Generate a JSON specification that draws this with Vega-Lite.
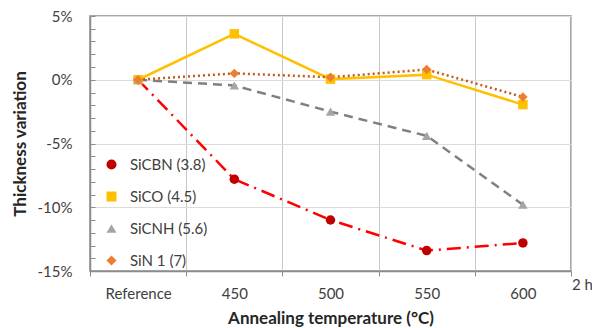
{
  "$schema": "https://vega.github.io/schema/vega-lite/v6.json",
  "width": 481,
  "height": 255,
  "autosize": {"type": "none"},
  "padding": {"left": 90, "top": 16, "right": 21, "bottom": 57},
  "background": "white",
  "config": {
    "font": "Lato",
    "view": {"stroke": "#8c8c8c", "strokeWidth": 1.5},
    "axis": {"labelFont": "Lato", "titleFont": "Lato"},
    "legend": {
      "title": null,
      "orient": "none",
      "legendX": 14,
      "legendY": 141,
      "symbolSize": 100,
      "symbolStrokeWidth": 0,
      "rowPadding": 16,
      "labelFontSize": 15,
      "labelColor": "#404040",
      "labelOffset": 11
    }
  },
  "datasets": {
    "main": [
      {"series": "SiCBN (3.8)", "temp": "Reference", "value": 0},
      {"series": "SiCBN (3.8)", "temp": "450", "value": -7.8},
      {"series": "SiCBN (3.8)", "temp": "500", "value": -11.0},
      {"series": "SiCBN (3.8)", "temp": "550", "value": -13.4},
      {"series": "SiCBN (3.8)", "temp": "600", "value": -12.8},
      {"series": "SiCO (4.5)", "temp": "Reference", "value": 0},
      {"series": "SiCO (4.5)", "temp": "450", "value": 3.6},
      {"series": "SiCO (4.5)", "temp": "500", "value": 0.05},
      {"series": "SiCO (4.5)", "temp": "550", "value": 0.4},
      {"series": "SiCO (4.5)", "temp": "600", "value": -1.95},
      {"series": "SiCNH (5.6)", "temp": "Reference", "value": 0},
      {"series": "SiCNH (5.6)", "temp": "450", "value": -0.45},
      {"series": "SiCNH (5.6)", "temp": "500", "value": -2.5},
      {"series": "SiCNH (5.6)", "temp": "550", "value": -4.4},
      {"series": "SiCNH (5.6)", "temp": "600", "value": -9.8},
      {"series": "SiN 1 (7)", "temp": "Reference", "value": 0},
      {"series": "SiN 1 (7)", "temp": "450", "value": 0.5},
      {"series": "SiN 1 (7)", "temp": "500", "value": 0.2},
      {"series": "SiN 1 (7)", "temp": "550", "value": 0.8},
      {"series": "SiN 1 (7)", "temp": "600", "value": -1.35}
    ],
    "note": [{"label": "2 h", "temp": "600", "value": -15}]
  },
  "data": {"name": "main"},
  "encoding": {
    "x": {
      "field": "temp",
      "type": "nominal",
      "sort": ["Reference", "450", "500", "550", "600"],
      "scale": {"type": "band", "paddingInner": 0, "paddingOuter": 0},
      "axis": {
        "title": "Annealing temperature (°C)",
        "titleFontSize": 17,
        "titleFontWeight": "bold",
        "titleColor": "#262626",
        "titlePadding": 9,
        "labelAngle": 0,
        "labelFontSize": 15,
        "labelColor": "#404040",
        "labelPadding": 10,
        "tickBand": "extent",
        "grid": true,
        "gridColor": "#c8c8c8",
        "gridWidth": 1,
        "domainColor": "#8c8c8c",
        "domainWidth": 1.5,
        "tickColor": "#8c8c8c",
        "tickSize": 5
      }
    },
    "y": {
      "field": "value",
      "type": "quantitative",
      "scale": {"domain": [-15, 5], "nice": false, "zero": false},
      "axis": {
        "title": "Thickness variation",
        "titleFontSize": 17,
        "titleFontWeight": "bold",
        "titleColor": "#262626",
        "titlePadding": 8,
        "values": [-15, -14, -13, -12, -11, -10, -9, -8, -7, -6, -5, -4, -3, -2, -1, 0, 1, 2, 3, 4, 5],
        "labelExpr": "datum.value % 5 === 0 ? datum.value + '%' : ''",
        "labelFontSize": 15,
        "labelColor": "#404040",
        "labelPadding": 23,
        "grid": true,
        "gridColor": "#dcdcdc",
        "gridOpacity": {"condition": {"test": "datum.value % 5 === 0", "value": 1}, "value": 0},
        "domainColor": "#8c8c8c",
        "domainWidth": 1.5,
        "tickColor": "#8c8c8c",
        "tickSize": -5
      }
    }
  },
  "layer": [
    {
      "transform": [{"filter": "datum.series === 'SiCBN (3.8)'"}],
      "mark": {"type": "line", "strokeWidth": 2.5, "color": "#ff0000", "strokeDash": [14, 6, 2, 6]},
      "encoding": {}
    },
    {
      "transform": [{"filter": "datum.series === 'SiCO (4.5)'"}],
      "mark": {"type": "line", "strokeWidth": 2.5, "color": "#ffc000"},
      "encoding": {}
    },
    {
      "transform": [{"filter": "datum.series === 'SiCNH (5.6)'"}],
      "mark": {"type": "line", "strokeWidth": 2.5, "color": "#808080", "strokeDash": [9, 6]},
      "encoding": {}
    },
    {
      "transform": [{"filter": "datum.series === 'SiN 1 (7)'"}],
      "mark": {"type": "line", "strokeWidth": 2.5, "color": "#c55a11", "strokeDash": [2, 3]},
      "encoding": {}
    },
    {
      "mark": {"type": "point", "filled": true, "opacity": 1, "size": 90},
      "encoding": {
        "shape": {
          "field": "series",
          "type": "nominal",
          "scale": {
            "domain": ["SiCBN (3.8)", "SiCO (4.5)", "SiCNH (5.6)", "SiN 1 (7)"],
            "range": ["circle", "square", "triangle-up", "diamond"]
          }
        },
        "color": {
          "field": "series",
          "type": "nominal",
          "scale": {
            "domain": ["SiCBN (3.8)", "SiCO (4.5)", "SiCNH (5.6)", "SiN 1 (7)"],
            "range": ["#c00000", "#ffc000", "#a5a5a5", "#ed7d31"]
          }
        }
      }
    },
    {
      "data": {"name": "note"},
      "mark": {"type": "text", "align": "left", "baseline": "middle", "dx": 49, "dy": 14, "fontSize": 15, "color": "#404040"},
      "encoding": {
        "text": {"field": "label"}
      }
    }
  ]
}
